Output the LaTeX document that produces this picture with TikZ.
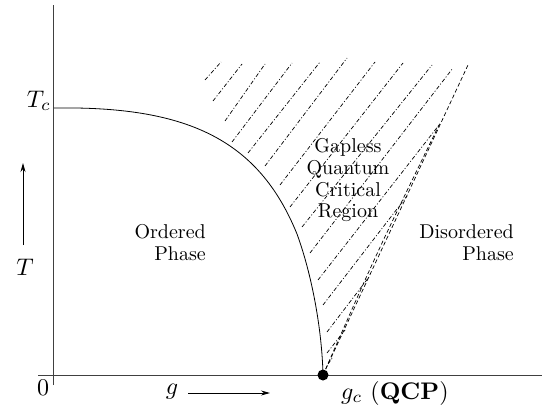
\RequirePackage{fix-cm}
\documentclass[tikz,border=0pt]{standalone}
\usepackage{graphicx}
\usetikzlibrary{arrows.meta}
\newcommand{\txtblock}[2]{\scalebox{2}{\renewcommand{\arraystretch}{0.9}\begin{tabular}{@{}#1@{}}#2\end{tabular}}}
\newcommand{\mathbig}[1]{\scalebox{2.4}{#1}}
\begin{document}
\begin{tikzpicture}[x=1pt,y=-1pt,
  axis/.style={line width=0.9pt, draw=black!75},
  phase/.style={line width=0.8pt},
  hatchline/.style={line width=0.7pt, dash pattern=on 4pt off 2pt on 1pt off 2pt},
  crossover/.style={line width=0.7pt, dash pattern=on 4pt off 2.5pt},
  txt/.style={inner sep=0pt},
  mlbl/.style={inner sep=0pt},
  arr/.style={line width=0.8pt, -{Stealth[length=9pt,width=5pt]}}]
\useasboundingbox (0,0) rectangle (543,412);
% axes
\coordinate (ytop) at (53,5);
\coordinate (ybot) at (53,385);
\coordinate (xl) at (38,375);
\coordinate (xr) at (542,375);
\draw[axis] (ybot) -- (ytop);
\draw[axis] (xl) -- (xr);
% phase boundary
\coordinate (tc) at (54,108);
\coordinate (kink) at (297,234);
\coordinate (qcp) at (323,375);
\draw[phase] (tc) .. controls (185,106) and (258,138) .. (kink)
  .. controls (312,275) and (322,330) .. (qcp);
% crossover lines
\coordinate (c1) at (468,65);
\coordinate (c2) at (440,123);
\draw[crossover] (qcp) -- (c1);
\draw[crossover] (qcp) .. controls (378,250) .. (c2);
% hatching
\draw[hatchline] (205,80) -- (221,62);
\draw[hatchline] (213,101) -- (242,64);
\draw[hatchline] (225,121) -- (265,64);
\draw[hatchline] (232,142) -- (292,63);
\draw[hatchline] (248,153) -- (320,62);
\draw[hatchline] (265,166) -- (347,58);
\draw[hatchline] (280,185) -- (375,62);
\draw[hatchline] (290,207) -- (403,63);
\draw[hatchline] (302,227) -- (432,65);
\draw[hatchline] (310,253) -- (453,68);
\draw[hatchline] (318,280) -- (439,125);
\draw[hatchline] (323,305) -- (407,196);
\draw[hatchline] (327,332) -- (369,277);
\draw[hatchline] (327,353) -- (345,330);
\draw[hatchline] (328,364) -- (333,357);
% QCP dot
\fill (qcp) circle (5.5);
% labels
\node[mlbl, anchor=east] (tclbl) at (51,101) {\mathbig{$T_c$}};
\node[mlbl] (tlbl) at (25,267) {\mathbig{$T$}};
\coordinate (ta) at (23,245);
\coordinate (tb) at (23,163);
\draw[arr] (ta) -- (tb);
\node[mlbl] (zero) at (43,388) {\mathbig{$0$}};
\node[mlbl] (glbl) at (172,392) {\mathbig{$g$}};
\coordinate (ga) at (188,393);
\coordinate (gb) at (270,393);
\draw[arr] (ga) -- (gb);
\node[mlbl, anchor=west] (gc) at (341,393) {\mathbig{$g_c$ (\textbf{QCP})}};
\node[txt, anchor=east] (ord) at (206,245) {\txtblock{r}{Ordered\\Phase}};
\node[txt] (gap) at (348,181) {\txtblock{c}{Gapless\\Quantum\\Critical\\Region}};
\node[txt, anchor=east] (dis) at (514,245) {\txtblock{r}{Disordered\\Phase}};
\end{tikzpicture}
\end{document}
